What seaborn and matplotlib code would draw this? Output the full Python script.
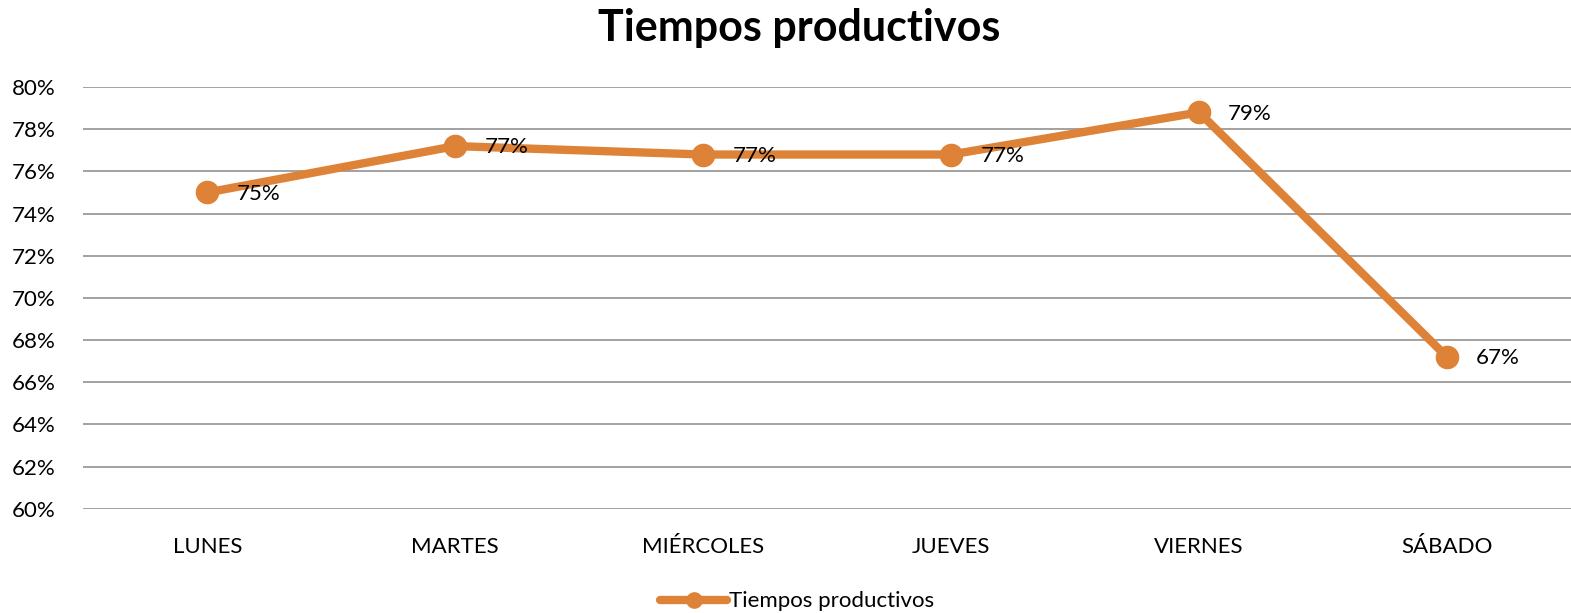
import pandas as pd
import seaborn as sns
import matplotlib.pyplot as plt
from matplotlib.ticker import FuncFormatter
from matplotlib.lines import Line2D

# data
dias = ["LUNES", "MARTES", "MIÉRCOLES", "JUEVES", "VIERNES", "SÁBADO"]
valores = [75.0, 77.2, 76.8, 76.8, 78.8, 67.2]
etiquetas = ["75%", "77%", "77%", "77%", "79%", "67%"]

df = pd.DataFrame({"dia": dias, "valor": valores})

sns.set_style("white")
plt.rcParams['font.family'] = ['Lato', 'DejaVu Sans']
plt.rcParams['text.color'] = 'black'

naranja = "#DE8238"

fig = plt.figure(figsize=(15.71, 6.13), dpi=100)
ax = fig.add_axes([0.053, 0.170, 0.947, 0.688])

sns.lineplot(data=df, x="dia", y="valor", ax=ax, color=naranja, linewidth=6,
             marker="o", markersize=17, markeredgewidth=0, sort=False)

for i, (v, t) in enumerate(zip(valores, etiquetas)):
    ax.annotate(t, (i, v), xytext=(21, -1), textcoords="offset points",
                ha="left", va="center", fontsize=16, color="black")

ax.set_ylim(60, 80)
ax.set_xlim(-0.5, len(dias) - 0.5)
ax.set_yticks(range(60, 81, 2))
ax.yaxis.set_major_formatter(FuncFormatter(lambda y, _: f"{int(y)}%"))
ax.grid(axis="y", color="#9a9a9a", linewidth=1.3)
ax.set_axisbelow(True)
for s in ax.spines.values():
    s.set_visible(False)
ax.tick_params(axis="both", length=0, labelsize=16, colors="black")
ax.tick_params(axis="x", pad=20)
ax.tick_params(axis="y", pad=20)
ax.set_xlabel("")
ax.set_ylabel("")

fig.suptitle("Tiempos productivos", fontsize=31, fontweight="bold", y=0.987,
             x=0.509, color="black")

handle = Line2D([], [], color=naranja, linewidth=6, marker="o", markersize=12,
                markeredgewidth=0)
ax.legend([handle], ["Tiempos productivos"], loc="upper center",
          bbox_to_anchor=(0.48, -0.175), frameon=False, fontsize=16,
          handlelength=3, handletextpad=0.1, borderaxespad=0)

plt.savefig("out.png", dpi=100)
